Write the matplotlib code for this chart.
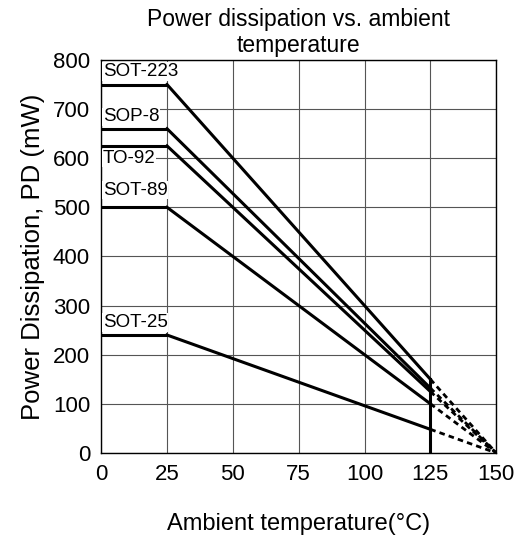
import matplotlib
matplotlib.use("Agg")
import matplotlib.pyplot as plt

plt.rcParams['font.family'] = ['Liberation Sans', 'DejaVu Sans']

packages = ["SOT-223", "SOP-8", "TO-92", "SOT-89", "SOT-25"]
pd_max = [750, 660, 625, 500, 240]
label_y = [776, 684, 600, 535, 265]
temp_flat = [0, 25]
temp_derate = [25, 125]
temp_dash = [125, 150]

fig = plt.figure(figsize=(5.19, 5.45), dpi=100)
ax = fig.add_axes([0.195, 0.169, 0.761, 0.721])

for name, p, ly in zip(packages, pd_max, label_y):
  p125 = p * (150 - 125) / (150 - 25)
  ax.plot(temp_flat, [p, p], color="k", lw=2.2, solid_capstyle="butt")
  ax.plot(temp_derate, [p, p125], color="k", lw=2.2)
  ax.plot(temp_dash, [p125, 0], color="k", lw=2, ls=(0, (2, 1.5)))
  ax.text(0.6, ly, name, fontsize=13.5, va="center", ha="left",
          bbox=dict(fc="w", ec="none", pad=0.5))

ax.plot([125, 125], [0, max(pd_max) * 0.2], color="k", lw=2.2)

ax.set_xlim(0, 150)
ax.set_ylim(0, 800)
ax.set_xticks(range(0, 151, 25))
ax.set_yticks(range(0, 801, 100))
ax.grid(True, color="#555555", lw=0.8)
ax.set_axisbelow(True)
for s in ax.spines.values():
  s.set_linewidth(1)
ax.tick_params(labelsize=16, length=0)
ax.tick_params(axis="x", pad=8)
ax.tick_params(axis="y", pad=8)
ax.set_title("Power dissipation vs. ambient\ntemperature", fontsize=16.5, pad=6, linespacing=1.15)
ax.set_xlabel("Ambient temperature(°C)", fontsize=17, labelpad=20)
ax.set_ylabel("Power Dissipation, PD (mW)", fontsize=18.5, labelpad=6)

plt.savefig("out.png", dpi=100)
